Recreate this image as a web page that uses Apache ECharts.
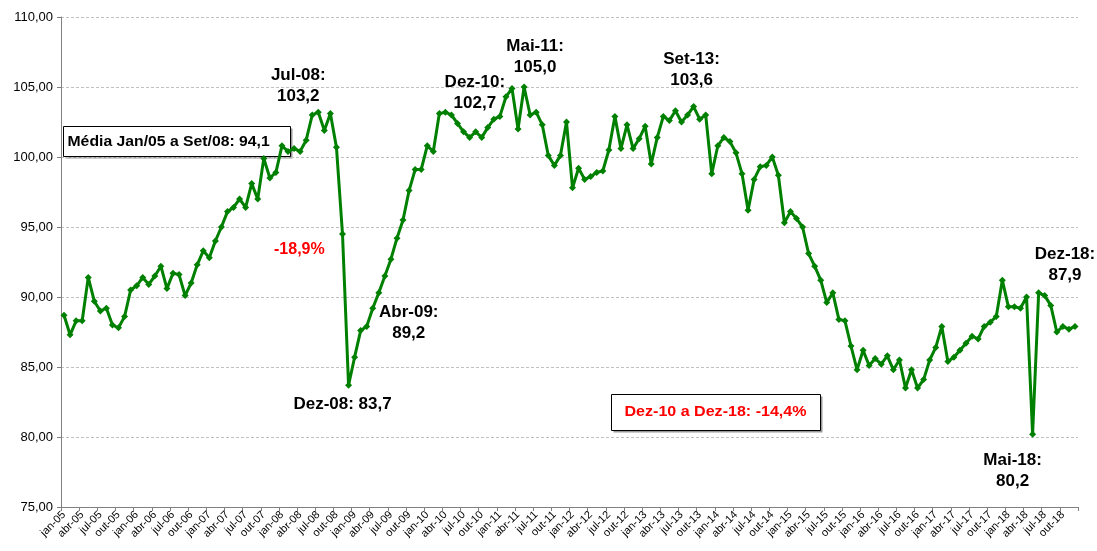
<!DOCTYPE html>
<html>
<head>
<meta charset="utf-8">
<script src="https://cdn.jsdelivr.net/npm/echarts@6/dist/echarts.min.js"></script>
<style>
html,body{margin:0;padding:0;background:#fff;}
#chart{width:1097px;height:551px;}
</style>
</head>
<body>
<div id="chart"></div>
<script>
// Month abbreviations and years used for the category labels
const monthNames = ['jan','fev','mar','abr','mai','jun','jul','ago','set','out','nov','dez'];
const years = ['05','06','07','08','09','10','11','12','13','14','15','16','17','18'];

// Monthly index values, jan-05 .. dez-18
const values2005 = [88.7,87.3,88.3,88.3,91.4,89.7,89.0,89.2,88.0,87.8,88.6,90.5];
const values2006 = [90.8,91.4,90.9,91.5,92.2,90.6,91.7,91.6,90.1,91.0,92.3,93.3];
const values2007 = [92.8,94.0,95.0,96.1,96.4,97.0,96.4,98.1,97.0,99.9,98.5,98.9];
const values2008 = [100.8,100.4,100.6,100.4,101.2,103.0,103.2,101.9,103.1,100.7,94.5,83.7];
const values2009 = [85.7,87.6,87.9,89.2,90.3,91.5,92.7,94.2,95.5,97.6,99.1,99.1];
const values2010 = [100.8,100.4,103.1,103.2,103.0,102.4,101.8,101.4,101.8,101.4,102.1,102.7];
const values2011 = [102.9,104.3,104.9,102.0,105.0,103.0,103.2,102.3,100.1,99.4,100.1,102.5];
const values2012 = [97.8,99.2,98.4,98.6,98.9,99.0,100.5,102.9,100.6,102.3,100.6,101.3];
const values2013 = [102.2,99.5,101.4,102.9,102.6,103.3,102.5,103.0,103.6,102.7,103.0,98.8];
const values2014 = [100.8,101.4,101.1,100.3,98.8,96.2,98.4,99.3,99.4,100.0,98.7,95.3];
const values2015 = [96.1,95.6,95.0,93.1,92.2,91.2,89.6,90.3,88.4,88.3,86.5,84.8];
const values2016 = [86.2,85.1,85.6,85.2,85.8,84.8,85.5,83.5,84.8,83.5,84.1,85.5];
const values2017 = [86.4,87.9,85.4,85.7,86.2,86.7,87.2,87.0,87.9,88.2,88.6,91.2];
const values2018 = [89.3,89.3,89.2,90.0,80.2,90.3,90.1,89.4,87.5,87.9,87.7,87.9];

// Y axis ticks
const yTicks = [75,80,85,90,95,100,105,110];

// Annotated points: [category index, label text]
const annotIdx = [42,47,51,71,76,104,160,167];
const annotText = ['Jul-08:\n103,2','Dez-08: 83,7','Abr-09:\n89,2','Dez-10:\n102,7','Mai-11:\n105,0','Set-13:\n103,6','Mai-18:\n80,2','Dez-18:\n87,9'];
const annotOffset = [[-20,-26],[-6,19],[36,15],[-19,-26],[11,-30],[-2,-37],[-20,37],[-10,-62]];

const categories = [];
years.forEach(y => monthNames.forEach(m => categories.push(m + '-' + y)));
const values = [].concat(values2005,values2006,values2007,values2008,values2009,values2010,values2011,
  values2012,values2013,values2014,values2015,values2016,values2017,values2018);

const markData = annotIdx.map((idx, k) => ({
  coord: [idx, values[idx]],
  symbol: 'circle', symbolSize: 0,
  label: {
    show: true, formatter: annotText[k], offset: annotOffset[k],
    color: '#000', fontWeight: 'bold', fontSize: 17, lineHeight: 21,
    fontFamily: 'Liberation Sans, Arial, sans-serif', align: 'center'
  }
}));

const chart = echarts.init(document.getElementById('chart'), null, {renderer: 'canvas'});
chart.setOption({
  animation: false,
  backgroundColor: '#fff',
  grid: {left: 61, right: 19, top: 17, bottom: 44, containLabel: false},
  xAxis: {
    type: 'category',
    data: categories,
    boundaryGap: true,
    axisLine: {show: true, lineStyle: {color: '#808080', width: 1}},
    axisTick: {show: true, interval: 2, length: 4, lineStyle: {color: '#808080'}},
    axisLabel: {
      interval: 2, rotate: 45, fontSize: 11, color: '#000', margin: 6,
      fontFamily: 'Liberation Sans, Arial, sans-serif'
    },
    splitLine: {show: false}
  },
  yAxis: {
    type: 'value',
    min: yTicks[0], max: yTicks[yTicks.length - 1], interval: 5,
    axisLine: {show: true, lineStyle: {color: '#808080', width: 1}},
    axisTick: {show: true, length: 4, lineStyle: {color: '#808080'}},
    axisLabel: {
      fontSize: 13, color: '#000', margin: 8,
      fontFamily: 'Liberation Sans, Arial, sans-serif',
      formatter: v => v.toFixed(2).replace('.', ',')
    },
    splitLine: {show: true, lineStyle: {color: '#c0c0c0', type: [3, 2], width: 1}}
  },
  series: [{
    type: 'line',
    data: values,
    symbol: 'diamond',
    symbolSize: 7,
    showAllSymbol: true,
    lineStyle: {color: '#008000', width: 3},
    itemStyle: {color: '#008000'},
    markPoint: {data: markData, animation: false}
  }],
  graphic: [
    {
      type: 'group', left: 63, top: 126,
      children: [
        {type: 'rect', shape: {x: 2, y: 2, width: 227, height: 30}, style: {fill: '#999'}},
        {type: 'rect', shape: {x: 0, y: 0, width: 227, height: 30}, style: {fill: '#fff', stroke: '#000', lineWidth: 1}},
        {type: 'text', x: 4, y: 15, scaleX: 1.05, style: {text: 'Média Jan/05 a Set/08: 94,1', fill: '#000',
          font: 'bold 15px "Liberation Sans", Arial, sans-serif', textVerticalAlign: 'middle', verticalAlign: 'middle'}}
      ]
    },
    {
      type: 'group', left: 611, top: 394,
      children: [
        {type: 'rect', shape: {x: 2, y: 2, width: 209, height: 36}, style: {fill: '#999'}},
        {type: 'rect', shape: {x: 0, y: 0, width: 209, height: 36}, style: {fill: '#fff', stroke: '#000', lineWidth: 1}},
        {type: 'text', x: 104, y: 17, scaleX: 1.07, style: {text: 'Dez-10 a Dez-18: -14,4%', fill: '#ff0000',
          font: 'bold 15px "Liberation Sans", Arial, sans-serif', align: 'center', textAlign: 'center',
          verticalAlign: 'middle', textVerticalAlign: 'middle'}}
      ]
    },
    {
      type: 'text', left: 274, top: 242,
      style: {text: '-18,9%', fill: '#ff0000', font: 'bold 16px "Liberation Sans", Arial, sans-serif'}
    }
  ]
});
</script>
</body>
</html>
